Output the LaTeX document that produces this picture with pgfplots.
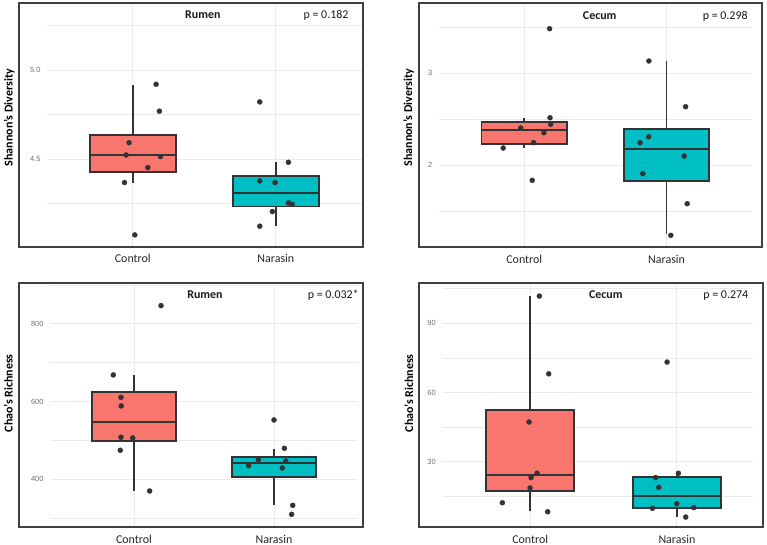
\documentclass[border=0pt]{standalone}
\usepackage{fontspec}
\setmainfont{Carlito}
\newfontfamily\ticfont{Liberation Sans}
\usepackage{pgfplots}
\pgfplotsset{compat=1.18}
\definecolor{ggred}{HTML}{F8766D}
\definecolor{ggteal}{HTML}{00BFC4}
\definecolor{edge}{HTML}{333333}
\definecolor{gridc}{HTML}{EBEBEB}
\definecolor{tickc}{HTML}{707070}
\definecolor{framec}{HTML}{404040}
\tikzset{
  ttl/.style={font=\bfseries\fontsize{12}{14}\selectfont, anchor=base, text=black!90},
  pv/.style={font=\fontsize{12}{14}\selectfont, anchor=base east, text=black!90},
}
\pgfplotsset{
  panel/.style={
    anchor=south west,
    scale only axis,
    xmin=0.4, xmax=2.6,
    axis line style={draw=none},
    major tick length=0pt, minor tick length=0pt,
    xtick={1,2}, xticklabels={Control,Narasin},
    xticklabel style={font=\fontsize{12}{14}\selectfont, text=black!85, yshift=-4bp},
    yticklabel style={font=\ticfont\fontsize{7.5}{9}\selectfont, text=tickc, xshift=-3bp},
    /pgf/number format/assume math mode=true,
    xmajorgrids, ymajorgrids, yminorgrids,
    major grid style={draw=gridc, line width=0.9bp},
    minor grid style={draw=gridc, line width=0.6bp},
    every axis y label/.style={rotate=90, anchor=center, font=\bfseries\fontsize{12}{14}\selectfont},
    clip=false,
  },
  ln/.style={draw=edge, line width=1.8bp, mark=none},
  pts/.style={only marks, mark=*, mark size=2.5bp, color=edge, fill=edge},
}
\begin{document}
\begin{tikzpicture}
\useasboundingbox (0,0) rectangle (767bp,-545bp);
% ---------- Panel 1: Rumen Shannon
\begin{axis}[panel, at={(47bp,-247bp)}, width=314.6bp, height=243.7bp,
  ymin=4.007, ymax=5.376, ytick={4.5,5.0}, yticklabels={4.5,5.0},
  minor ytick={4.25,4.75,5.25},
  ylabel={Shannon’s Diversity},
  ylabel style={at={(axis description cs:-0.12,0.531)}}]
% Control: lower whisker 4.369, Q1 4.429, median 4.522, Q3 4.637, upper whisker 4.917
\addplot[ln] coordinates {(1,4.369) (1,4.429)};
\addplot[ln] coordinates {(1,4.637) (1,4.917)};
\addplot[ln, fill=ggred] coordinates {(0.7,4.429) (1.3,4.429) (1.3,4.637) (0.7,4.637)} -- cycle;
\addplot[ln] coordinates {(0.7,4.522) (1.3,4.522)};
% Narasin: 4.125, 4.234, 4.312, 4.404, 4.483
\addplot[ln] coordinates {(2,4.125) (2,4.234)};
\addplot[ln] coordinates {(2,4.404) (2,4.483)};
\addplot[ln, fill=ggteal] coordinates {(1.7,4.234) (2.3,4.234) (2.3,4.404) (1.7,4.404)} -- cycle;
\addplot[ln] coordinates {(1.7,4.312) (2.3,4.312)};
\addplot[pts] coordinates {(1.163,4.921) (1.186,4.770) (0.974,4.593) (0.953,4.524) (1.193,4.515) (1.105,4.453) (0.942,4.369) (1.014,4.075)};
\addplot[pts] coordinates {(1.888,4.822) (2.088,4.483) (1.888,4.378) (1.995,4.369) (2.088,4.255) (2.114,4.247) (1.976,4.206) (1.888,4.124)};
\node[ttl] at (axis cs:1.49,5.288) {Rumen};
\node[pv] at (axis cs:2.533,5.288) {p = 0.182};
\end{axis}
% ---------- Panel 2: Cecum Shannon
\begin{axis}[panel, at={(438.9bp,-247.3bp)}, width=313bp, height=244bp,
  ymin=1.109, ymax=3.761, ytick={2,3}, yticklabels={2,3},
  minor ytick={1.5,2.5,3.5},
  ylabel={Shannon’s Diversity},
  ylabel style={at={(axis description cs:-0.0965,0.531)}}]
% Control: 2.192, 2.228, 2.380, 2.467, 2.511
\addplot[ln] coordinates {(1,2.192) (1,2.228)};
\addplot[ln] coordinates {(1,2.467) (1,2.511)};
\addplot[ln, fill=ggred] coordinates {(0.7,2.228) (1.3,2.228) (1.3,2.467) (0.7,2.467)} -- cycle;
\addplot[ln] coordinates {(0.7,2.380) (1.3,2.380)};
% Narasin: 1.25, 1.826, 2.174, 2.391, 3.134
\addplot[ln] coordinates {(2,1.25) (2,1.826)};
\addplot[ln] coordinates {(2,2.391) (2,3.134)};
\addplot[ln, fill=ggteal] coordinates {(1.7,1.826) (2.3,1.826) (2.3,2.391) (1.7,2.391)} -- cycle;
\addplot[ln] coordinates {(1.7,2.174) (2.3,2.174)};
\addplot[pts] coordinates {(1.178,3.485) (1.181,2.517) (1.186,2.446) (0.975,2.405) (1.138,2.354) (1.066,2.246) (0.852,2.188) (1.056,1.837)};
\addplot[pts] coordinates {(1.876,3.134) (2.134,2.637) (1.874,2.311) (1.814,2.246) (2.124,2.101) (1.833,1.909) (2.145,1.583) (2.030,1.239)};
\node[ttl] at (axis cs:1.53,3.590) {Cecum};
\node[pv] at (axis cs:2.595,3.590) {p = 0.298};
\end{axis}
% ---------- Panel 3: Rumen Chao
\begin{axis}[panel, at={(50bp,-527.3bp)}, width=308bp, height=244.6bp,
  ymin=276.4, ymax=906, ytick={400,600,800}, yticklabels={400,600,800},
  minor ytick={300,500,700,900},
  ylabel={Chao’s Richness},
  ylabel style={at={(axis description cs:-0.135,0.548)}}]
% Control: 370.7, 497.9, 547.6, 624.9, 667.9
\addplot[ln] coordinates {(1,370.7) (1,497.9)};
\addplot[ln] coordinates {(1,624.9) (1,667.9)};
\addplot[ln, fill=ggred] coordinates {(0.7,497.9) (1.3,497.9) (1.3,624.9) (0.7,624.9)} -- cycle;
\addplot[ln] coordinates {(0.7,547.6) (1.3,547.6)};
% Narasin: 333, 405.2, 442.1, 456.7, 478.9
\addplot[ln] coordinates {(2,333) (2,405.2)};
\addplot[ln] coordinates {(2,456.7) (2,478.9)};
\addplot[ln, fill=ggteal] coordinates {(1.7,405.2) (2.3,405.2) (2.3,456.7) (1.7,456.7)} -- cycle;
\addplot[ln] coordinates {(1.7,442.1) (2.3,442.1)};
\addplot[pts] coordinates {(1.193,847) (0.852,668.6) (0.907,611) (0.909,588.8) (0.907,508.2) (0.991,506.4) (0.902,474.7) (1.112,369.9)};
\addplot[pts] coordinates {(2.0,552.7) (2.074,479.8) (1.888,450.5) (2.084,447.1) (1.819,435) (2.059,429.1) (2.134,333) (2.126,309.8)};
\node[ttl] at (axis cs:1.507,865.8) {Rumen};
\node[pv] at (axis cs:2.63,865.8) {p = 0.032*};
\end{axis}
% ---------- Panel 4: Cecum Chao
\begin{axis}[panel, at={(442.2bp,-527.3bp)}, width=311bp, height=244.6bp,
  xmax=2.52,
  ymin=1.56, ymax=107.6, ytick={30,60,90}, yticklabels={30,60,90},
  minor ytick={15,45,75,105},
  ylabel={Chao’s Richness},
  ylabel style={at={(axis description cs:-0.107,0.548)}}]
% Control: 8.5, 17.2, 24.1, 52.5, 101.8
\addplot[ln] coordinates {(1,8.5) (1,17.2)};
\addplot[ln] coordinates {(1,52.5) (1,101.8)};
\addplot[ln, fill=ggred] coordinates {(0.7,17.2) (1.3,17.2) (1.3,52.5) (0.7,52.5)} -- cycle;
\addplot[ln] coordinates {(0.7,24.1) (1.3,24.1)};
% Narasin: 6.2, 9.9, 15.3, 23.4, 24.7
\addplot[ln] coordinates {(2,6.2) (2,9.9)};
\addplot[ln] coordinates {(2,23.4) (2,24.7)};
\addplot[ln, fill=ggteal] coordinates {(1.7,9.9) (2.3,9.9) (2.3,23.4) (1.7,23.4)} -- cycle;
\addplot[ln] coordinates {(1.7,15.3) (2.3,15.3)};
\addplot[pts] coordinates {(1.0625,101.8) (1.126,68.1) (0.992,47.2) (1.047,25.0) (1.006,23.1) (0.999,18.6) (0.810,12.2) (1.119,8.3)};
\addplot[pts] coordinates {(1.933,73.2) (2.010,25.0) (1.855,23.1) (1.876,18.9) (1.999,11.8) (1.833,9.8) (2.115,10.1) (2.060,6.0)};
\node[ttl] at (axis cs:1.515,100.8) {Cecum};
\node[pv] at (axis cs:2.51,100.8) {p = 0.274};
\end{axis}
% ---------- panel frames
\draw[framec, line width=1.8bp] (19bp,-3.3bp) rectangle (363bp,-247bp);
\draw[framec, line width=1.8bp] (418.7bp,-3.3bp) rectangle (762.3bp,-247.3bp);
\draw[framec, line width=1.8bp] (19bp,-282.7bp) rectangle (363.3bp,-527.3bp);
\draw[framec, line width=1.8bp] (418.7bp,-282.7bp) rectangle (763bp,-527.3bp);
\end{tikzpicture}
\end{document}
